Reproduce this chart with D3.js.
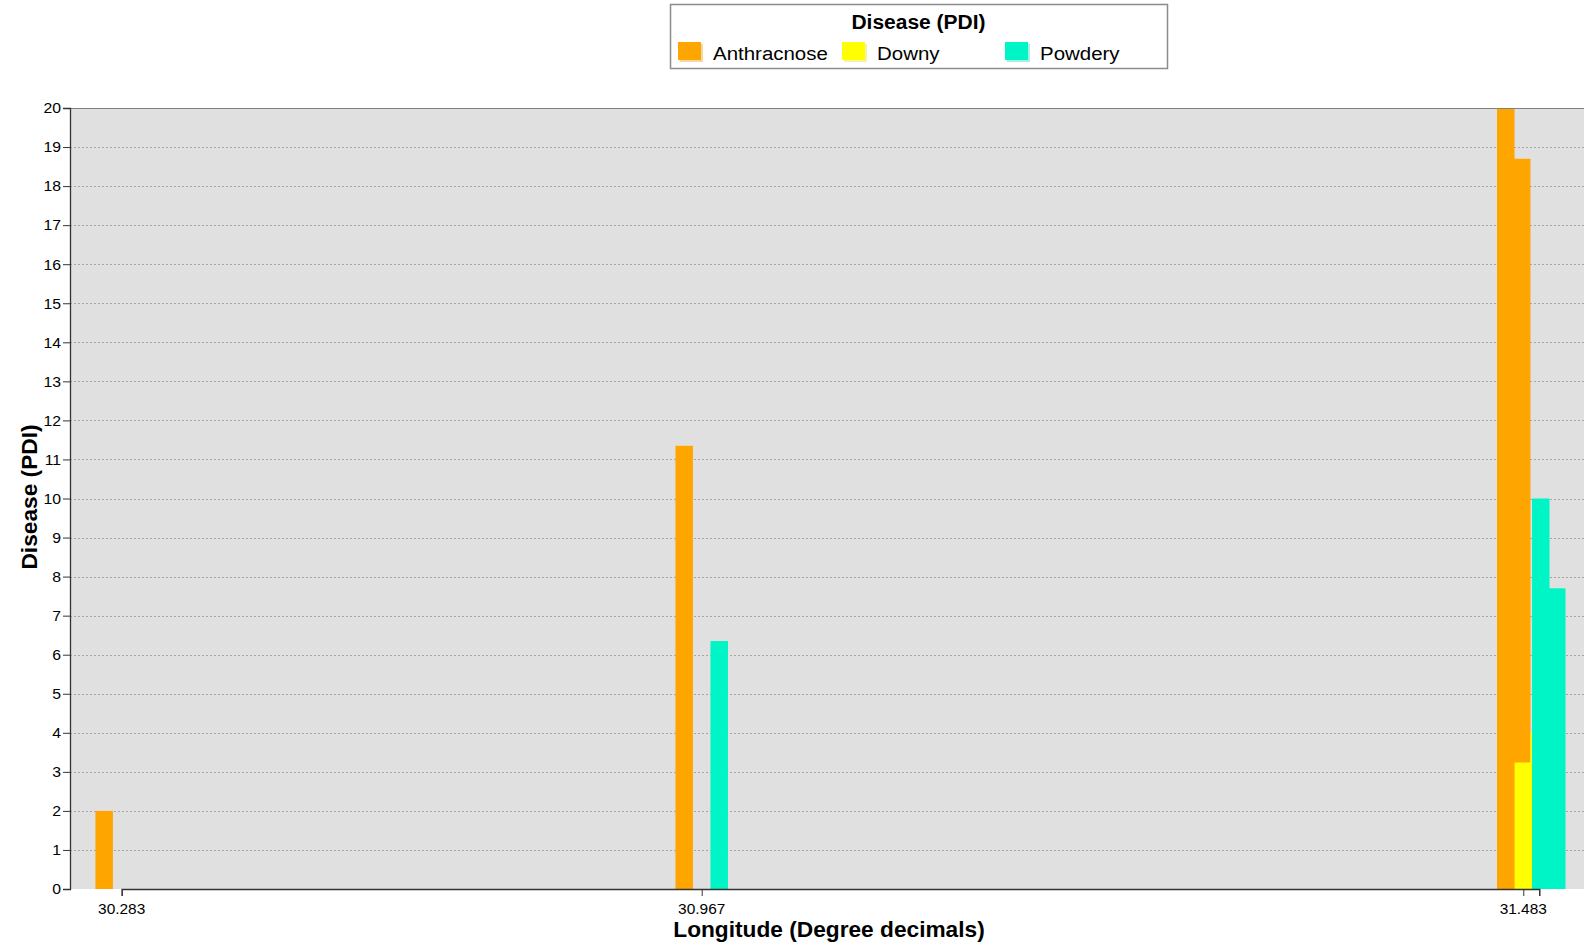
<!DOCTYPE html>
<html>
<head>
<meta charset="utf-8">
<script src="https://cdn.jsdelivr.net/npm/d3@7"></script>
<style>
  html, body { margin: 0; padding: 0; background: #ffffff; }
  svg { display: block; }
  text { font-family: "Liberation Sans", Arial, sans-serif; fill: #000; }
</style>
</head>
<body>
<svg id="chart" width="1584" height="949"></svg>
<script>
// ---------- data ----------
const seriesNames = ["Anthracnose", "Downy", "Powdery"];
const seriesColors = ["#ffa500", "#ffff00", "#00f5c6"];
const longitudes = [30.283, 30.967, 31.483, 31.49];
const anthracnose = [2.0, 11.35, 20.0, 18.7];
const downy = [0, 0, 3.24, 4.0];
const powdery = [0, 6.35, 10.0, 7.7];
const xTickLabels = ["30.283", "30.967", "31.483", ""];
const yTicks = d3.range(0, 21, 1);
const legendTitle = "Disease (PDI)";
const xTitle = "Longitude (Degree decimals)";
const yTitle = "Disease (PDI)";

// ---------- layout ----------
const W = 1584, H = 949;
const plot = { left: 70, top: 108, right: 1590, bottom: 889 };
const pw = plot.right - plot.left;
const SX = 1.066; // horizontal text stretch of the original rendering

const svg = d3.select("#chart");

function stretchedText(g, x, y, str, opts = {}) {
  const t = g.append("text")
    .attr("transform", `translate(${x},${y}) scale(${SX},1)`)
    .attr("text-anchor", opts.anchor || "start")
    .style("font-size", (opts.size || 14) + "px")
    .style("font-weight", opts.bold ? "bold" : "normal")
    .text(str);
  if (opts.baseline) t.attr("dominant-baseline", opts.baseline);
  return t;
}

// scales
const y = d3.scaleLinear().domain([0, 20]).range([plot.bottom, plot.top]);
// the longitude axis of the original is not evenly spaced; piecewise mapping
const x = d3.scaleLinear()
  .domain(longitudes)
  .range([0.034, 0.4156, 0.9561, 0.9666].map(f => plot.left + f * pw));
const barW = 17.5;
const sub = d3.scaleBand().domain(seriesNames).range([-1.5 * barW, 1.5 * barW]).padding(0);

// clip
svg.append("defs").append("clipPath").attr("id", "clip")
  .append("rect").attr("x", plot.left).attr("y", plot.top - 1)
  .attr("width", pw).attr("height", plot.bottom - plot.top + 1);

// background
svg.append("rect")
  .attr("x", plot.left).attr("y", plot.top)
  .attr("width", pw).attr("height", plot.bottom - plot.top)
  .attr("fill", "#e0e0e0");

// gridlines
svg.append("g").selectAll("line")
  .data(yTicks.filter(d => d > 0 && d < 20))
  .join("line")
  .attr("x1", plot.left).attr("x2", plot.right)
  .attr("y1", d => Math.round(y(d)) + 0.5).attr("y2", d => Math.round(y(d)) + 0.5)
  .attr("stroke", "#a6a6a6").attr("stroke-width", 1)
  .attr("stroke-dasharray", "2,2");

// bars
const allSeries = [anthracnose, downy, powdery];
const barsG = svg.append("g").attr("clip-path", "url(#clip)");
seriesNames.forEach((name, si) => {
  const vals = allSeries[si];
  barsG.append("g").selectAll("rect")
    .data(longitudes.map((lon, i) => ({ lon, v: vals[i] })).filter(d => d.v > 0))
    .join("rect")
    .attr("x", d => x(d.lon) + sub(name))
    .attr("width", sub.bandwidth())
    .attr("y", d => y(d.v))
    .attr("height", d => y(0) - y(d.v))
    .attr("fill", seriesColors[si]);
});

// top border of plot
svg.append("line")
  .attr("x1", plot.left).attr("x2", plot.right)
  .attr("y1", plot.top + 0.5).attr("y2", plot.top + 0.5)
  .attr("stroke", "#808080").attr("stroke-width", 1);

// Y axis
const yAxisG = svg.append("g").attr("transform", `translate(${plot.left},0)`)
  .call(d3.axisLeft(y).tickValues(yTicks).tickSize(7).tickFormat(""));
yAxisG.select(".domain").attr("stroke", "#333").attr("stroke-width", 1.3);
yAxisG.selectAll(".tick line").attr("stroke", "#333");
const yLab = svg.append("g");
yTicks.forEach(t => {
  stretchedText(yLab, 61, y(t), String(t), { anchor: "end", size: 14.8, baseline: "central" });
});

// X axis
const xAxisG = svg.append("g").attr("transform", `translate(0,${plot.bottom})`)
  .call(d3.axisBottom(x).tickValues(longitudes).tickSize(7).tickFormat(""));
xAxisG.select(".domain").attr("stroke", "#333").attr("stroke-width", 1.3);
xAxisG.selectAll(".tick line").attr("stroke", "#333");
const xLab = svg.append("g");
longitudes.forEach((lon, i) => {
  if (xTickLabels[i]) stretchedText(xLab, x(lon), 914, xTickLabels[i], { anchor: "middle", size: 14.5 });
});

// axis titles
stretchedText(svg, (plot.left + plot.right) / 2 - 1, 937, xTitle, { anchor: "middle", size: 21.3, bold: true });
svg.append("text")
  .attr("transform", `translate(36.5,497) rotate(-90) scale(${SX},1)`)
  .attr("text-anchor", "middle")
  .style("font-size", "21.3px").style("font-weight", "bold")
  .text(yTitle);

// legend
const lg = svg.append("g");
lg.append("rect").attr("x", 670.5).attr("y", 4.5).attr("width", 497).attr("height", 64)
  .attr("fill", "#fff").attr("stroke", "#8c8c8c").attr("stroke-width", 1.5);
stretchedText(lg, 918.5, 29, legendTitle, { anchor: "middle", size: 19.7, bold: true });
const legendX = [678, 842, 1005];
seriesNames.forEach((name, i) => {
  lg.append("rect").attr("x", legendX[i] + 2).attr("y", 44).attr("width", 23).attr("height", 18)
    .attr("fill", d3.color(seriesColors[i]).darker(0.4)).attr("opacity", 0.35);
  lg.append("rect").attr("x", legendX[i]).attr("y", 42).attr("width", 23).attr("height", 18)
    .attr("fill", seriesColors[i]);
  stretchedText(lg, legendX[i] + 35, 60, name, { size: 19.2 });
});
</script>
</body>
</html>
